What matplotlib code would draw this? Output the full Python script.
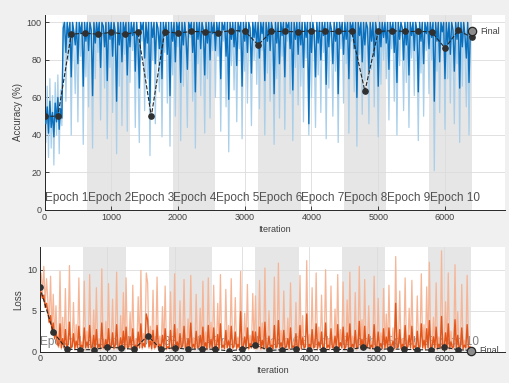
import numpy as np
import matplotlib
matplotlib.use('Agg')
import matplotlib.pyplot as plt

plt.rcParams['font.family'] = ['Liberation Sans', 'DejaVu Sans']

# training samples every 20 iterations, validation every 200
step = 20
val_step = 200
iters_per_epoch = 640
n_epochs = 10

acc_raw = [
    50, 36, 66, 28, 70, 33, 61, 24, 68, 40, 72, 30, 64, 45,
    100, 100, 58, 100, 80, 100, 40, 100, 86, 62, 100, 47, 100, 82, 100, 35, 100, 71,
    100, 55, 100, 90, 33, 100, 70, 100, 84, 100, 48, 100, 94, 65, 100, 38,
    100, 76, 100, 52, 100, 88, 30, 100, 66, 100, 45, 100, 83, 100, 42, 100,
    68, 100, 85, 100, 44, 100, 74, 36, 100, 90, 100, 53, 100, 70, 100, 29,
    100, 80, 100, 46, 100, 92, 63, 100, 39, 100, 84, 100, 57, 100, 34, 100,
    72, 100, 50, 100, 87, 100, 37, 100, 66, 100, 81, 44, 100, 92, 100, 58,
    100, 33, 100, 78, 100, 61, 100, 88, 41, 100, 70, 100, 49, 100, 85, 100,
    60, 100, 82, 100, 42, 100, 90, 100, 55, 100, 31, 100, 77, 100, 64, 100,
    47, 100, 86, 100, 38, 100, 74, 100, 57, 100, 91, 45, 100, 80, 100, 67,
    100, 54, 100, 85, 100, 40, 100, 73, 100, 58, 100, 88, 35, 100, 70, 100,
    49, 100, 82, 100, 43, 100, 90, 100, 62, 100, 37, 100, 76, 100, 56, 100,
    66, 100, 47, 100, 81, 100, 40, 100, 60, 100, 89, 44, 100, 72, 100, 52,
    100, 84, 100, 38, 100, 65, 100, 91, 50, 100, 74, 100, 36, 100, 86, 100,
    57, 100, 78, 100, 41, 100, 90, 100, 63, 100, 34, 100, 83, 100, 51, 100,
    69, 100, 92, 46, 100, 75, 100, 55, 100, 87, 39, 100, 67, 100, 80, 100,
    70, 100, 48, 100, 86, 100, 58, 100, 40, 100, 77, 100, 92, 53, 100, 68,
    100, 44, 100, 81, 100, 61, 100, 90, 37, 100, 73, 100, 50, 100, 85, 100,
    62, 100, 80, 100, 21, 100, 74, 100, 52, 100, 88, 100, 43, 100, 70, 100,
    57, 100, 90, 46, 100, 78, 100, 36, 100, 66, 100, 84, 55, 100, 40, 93,
    94]
acc_smooth = [
    50, 46, 55, 41, 58, 44, 52, 39, 57, 47, 60, 43, 54, 49,
    97, 100, 84, 100, 92, 100, 71, 100, 95, 88, 100, 78, 100, 94, 100, 66, 100, 90,
    100, 85, 100, 96, 61, 100, 89, 100, 93, 100, 76, 100, 98, 87, 100, 69,
    100, 91, 100, 82, 100, 95, 58, 100, 88, 100, 79, 100, 94, 100, 72, 100,
    87, 100, 93, 100, 74, 100, 90, 65, 100, 96, 100, 81, 100, 89, 100, 57,
    100, 92, 100, 78, 100, 97, 86, 100, 70, 100, 93, 100, 83, 100, 61, 100,
    90, 100, 79, 100, 95, 100, 68, 100, 88, 100, 92, 75, 100, 97, 100, 84,
    100, 63, 100, 91, 100, 86, 100, 96, 72, 100, 89, 100, 80, 100, 94, 100,
    85, 100, 93, 100, 70, 100, 96, 100, 82, 100, 59, 100, 91, 100, 87, 100,
    77, 100, 95, 100, 66, 100, 90, 100, 84, 100, 97, 73, 100, 92, 100, 88,
    100, 81, 100, 94, 100, 69, 100, 90, 100, 85, 100, 96, 62, 100, 89, 100,
    78, 100, 93, 100, 71, 100, 97, 100, 86, 100, 64, 100, 91, 100, 83, 100,
    88, 100, 76, 100, 92, 100, 46, 100, 84, 100, 95, 71, 100, 89, 100, 80,
    100, 93, 100, 67, 100, 87, 100, 96, 78, 100, 90, 100, 62, 100, 94, 100,
    83, 100, 91, 100, 70, 100, 96, 100, 86, 100, 60, 100, 93, 100, 79, 100,
    88, 100, 97, 74, 100, 90, 100, 82, 100, 95, 66, 100, 87, 100, 92, 100,
    89, 100, 75, 100, 94, 100, 84, 100, 68, 100, 91, 100, 97, 80, 100, 88,
    100, 72, 100, 93, 100, 85, 100, 96, 63, 100, 90, 100, 78, 100, 94, 100,
    86, 100, 92, 100, 58, 100, 90, 100, 79, 100, 95, 100, 70, 100, 88, 100,
    83, 100, 96, 74, 100, 91, 100, 65, 100, 87, 100, 93, 81, 100, 68, 97,
    95]
acc_val = [50, 50, 93.7, 94.3, 93.7, 94.8, 93.7, 95, 50, 95, 94.3, 95.2, 95, 94.6,
           95.7, 95.4, 88, 95.2, 95.2, 95, 95.6, 95.2, 95.2, 95.4, 63.3, 95.2, 95.6,
           95.2, 95.2, 95, 86.3, 95.8, 92]
acc_final = 95.3

loss_raw = [
    8.0, 9.6, 7.1, 10.4, 5.8, 8.9, 6.3, 3.5, 9.2, 2.4, 7.0, 1.5, 5.6, 0.9, 0.5, 9.8,
    0.3, 4.2, 0.4, 7.7, 0.2, 1.8, 10.5, 0.3, 0.6, 6.0, 0.2, 3.3, 0.4, 9.0, 0.3, 1.2,
    0.3, 8.6, 0.2, 2.5, 0.4, 9.4, 0.3, 0.5, 5.1, 0.2, 7.8, 0.4, 1.6, 0.2, 10.1, 0.3,
    0.5, 3.7, 0.2, 8.3, 0.3, 0.6, 6.4, 0.2, 1.1, 9.7, 0.3, 0.4, 4.4, 0.2, 7.2, 0.3,
    9.0, 0.3, 0.5, 4.8, 0.2, 8.1, 0.3, 1.4, 0.2, 6.7, 0.4, 9.9, 0.3, 2.2, 0.5, 9.6,
    8.4, 0.4, 3.1, 0.2, 7.5, 0.3, 0.6, 9.1, 0.2, 1.9, 0.4, 5.5, 0.3, 8.0, 0.2, 0.6,
    0.3, 7.3, 0.2, 0.5, 9.5, 0.3, 2.8, 0.2, 6.2, 0.4, 1.0, 8.8, 0.3, 0.5, 4.0, 0.2,
    9.3, 0.3, 1.7, 0.2, 7.0, 0.4, 0.6, 5.3, 0.2, 8.6, 0.3, 2.4, 0.2, 9.0, 0.4, 3.6,
    0.2, 8.1, 0.3, 0.6, 5.9, 0.2, 9.4, 0.3, 1.3, 0.2, 7.6, 0.4, 3.2, 0.2, 8.9, 0.3,
    0.5, 6.6, 0.2, 1.8, 0.3, 9.8, 0.2, 0.6, 4.7, 0.3, 8.2, 0.2, 2.0, 0.4, 7.1, 0.3,
    6.8, 0.3, 0.5, 8.7, 0.2, 3.5, 0.3, 10.2, 0.2, 0.6, 5.0, 0.3, 1.4, 0.2, 9.1, 0.4,
    0.5, 10.8, 0.3, 2.6, 0.2, 7.4, 0.3, 0.6, 4.1, 0.2, 8.4, 0.3, 1.2, 0.2, 6.0, 0.4,
    0.3, 9.3, 0.2, 4.4, 0.3, 0.6, 11.1, 0.3, 2.1, 0.2, 7.8, 0.4, 0.5, 9.6, 0.2, 3.0,
    0.3, 6.9, 0.2, 0.6, 10.0, 0.3, 1.5, 0.2, 8.0, 0.4, 0.5, 5.2, 0.2, 9.4, 0.3, 2.7,
    0.4, 8.5, 0.2, 0.6, 6.3, 0.3, 9.7, 0.2, 1.9, 0.3, 7.2, 0.2, 0.5, 10.4, 0.3, 3.9,
    0.2, 8.8, 0.4, 0.6, 5.6, 0.2, 1.3, 0.3, 9.2, 0.2, 0.5, 6.5, 0.3, 2.3, 0.2, 7.7,
    0.3, 4.6, 0.2, 8.1, 0.3, 0.6, 2.9, 0.2, 11.6, 0.3, 0.5, 7.4, 0.2, 1.6, 0.3, 9.0,
    0.2, 0.6, 5.3, 0.3, 8.7, 0.2, 1.1, 0.3, 6.8, 0.2, 0.5, 9.5, 0.3, 3.3, 0.2, 7.9,
    0.3, 10.9, 0.2, 0.6, 4.2, 0.3, 8.4, 0.2, 1.8, 0.3, 12.3, 0.2, 0.5, 6.1, 0.3, 9.6,
    0.2, 2.5, 0.3, 0.6, 10.6, 0.2, 4.9, 0.3, 0.5, 8.2, 0.2, 1.4, 0.3, 9.3, 0.2, 0.6,
    0.2]
loss_smooth = [
    7.6, 7.2, 6.5, 6.9, 5.4, 5.9, 4.8, 3.6, 4.4, 2.6, 3.5, 1.6, 2.5, 1.0, 0.7, 3.4,
    0.5, 1.6, 0.5, 2.7, 0.4, 0.9, 3.6, 0.5, 0.6, 2.2, 0.4, 1.3, 0.5, 3.1, 0.4, 0.8,
    0.5, 2.9, 0.5, 1.2, 0.5, 3.2, 0.5, 0.6, 2.0, 0.4, 2.7, 0.5, 0.9, 0.4, 3.5, 0.5,
    0.6, 1.5, 0.4, 2.8, 0.5, 0.6, 2.3, 0.4, 0.8, 3.3, 0.5, 0.5, 1.7, 0.4, 2.5, 0.5,
    3.0, 0.5, 0.6, 1.8, 0.4, 2.8, 0.5, 0.8, 0.4, 2.4, 0.5, 3.4, 0.5, 1.0, 0.6, 4.6,
    3.9, 0.6, 1.3, 0.4, 2.6, 0.5, 0.6, 3.2, 0.4, 0.9, 0.5, 2.0, 0.5, 2.8, 0.4, 0.6,
    0.5, 2.6, 0.4, 0.5, 3.3, 0.5, 1.2, 0.4, 2.2, 0.5, 0.7, 3.1, 0.5, 0.5, 1.6, 0.4,
    3.5, 0.5, 0.9, 0.4, 2.5, 0.5, 0.6, 2.0, 0.4, 3.0, 0.5, 1.1, 0.4, 3.2, 0.5, 1.5,
    0.4, 2.9, 0.5, 0.6, 2.1, 0.4, 3.4, 0.5, 0.8, 0.4, 2.6, 0.5, 1.3, 0.4, 3.1, 0.5,
    0.6, 2.4, 0.4, 0.9, 0.5, 4.9, 0.4, 0.6, 1.8, 0.5, 2.9, 0.4, 1.0, 0.5, 2.5, 0.5,
    2.4, 0.5, 0.6, 3.0, 0.4, 1.4, 0.5, 3.6, 0.4, 0.6, 1.9, 0.5, 0.8, 0.4, 3.2, 0.5,
    0.6, 3.8, 0.5, 1.1, 0.4, 2.6, 0.5, 0.6, 1.6, 0.4, 2.9, 0.5, 0.7, 0.4, 2.2, 0.5,
    0.5, 3.2, 0.4, 1.7, 0.5, 0.6, 4.6, 0.5, 0.9, 0.4, 2.7, 0.5, 0.6, 3.4, 0.4, 1.2,
    0.5, 2.4, 0.4, 0.6, 3.5, 0.5, 0.8, 0.4, 2.8, 0.5, 0.6, 1.9, 0.4, 3.3, 0.5, 1.1,
    0.5, 3.0, 0.4, 0.6, 2.3, 0.5, 3.4, 0.4, 0.9, 0.5, 2.6, 0.4, 0.6, 3.7, 0.5, 1.5,
    0.4, 3.1, 0.5, 0.6, 2.1, 0.4, 0.8, 0.5, 3.3, 0.4, 0.6, 2.4, 0.5, 1.0, 0.4, 2.8,
    0.5, 1.8, 0.4, 2.9, 0.5, 0.6, 1.3, 0.4, 5.9, 0.5, 0.6, 2.7, 0.4, 0.9, 0.5, 3.2,
    0.4, 0.6, 2.0, 0.5, 3.1, 0.4, 0.7, 0.5, 2.5, 0.4, 0.6, 3.4, 0.5, 1.4, 0.4, 2.8,
    0.5, 3.8, 0.4, 0.6, 1.8, 0.5, 3.0, 0.4, 0.9, 0.5, 4.3, 0.4, 0.6, 2.3, 0.5, 3.4,
    0.4, 1.2, 0.5, 0.6, 3.9, 0.4, 2.0, 0.5, 0.6, 2.9, 0.4, 0.8, 0.5, 3.3, 0.4, 0.6,
    0.4]
loss_val = [7.9, 2.4, 0.3, 0.25, 0.25, 0.57, 0.45, 0.28, 1.95, 0.28, 0.5, 0.28, 0.35,
            0.28, 0.1, 0.28, 0.8, 0.15, 0.25, 0.35, 0.25, 0.25, 0.28, 0.25, 0.57, 0.28,
            0.35, 0.28, 0.25, 0.2, 0.55, 0.25, 0.15]
loss_final = 0.1

it_val = np.arange(len(acc_val)) * val_step
last_it = it_val[-1]

fig = plt.figure(figsize=(5.1, 3.83), dpi=100, facecolor='#f0f0f0')
ax1 = fig.add_axes([0.0873, 0.4517, 0.903, 0.5093])
ax2 = fig.add_axes([0.078, 0.0817, 0.912, 0.2742])

text_col = '#404040'


def style_axes(ax, ylim, yticks, ylabel):
    ax.set_facecolor('white')
    ax.set_xlim(0, 6900)
    ax.set_ylim(*ylim)
    ax.set_yticks(yticks)
    ax.set_xticks(range(0, 7000, 1000))
    ax.grid(True, color='#dcdcdc', linewidth=0.6)
    ax.set_axisbelow(True)
    for s in ('top', 'right'):
        ax.spines[s].set_visible(False)
    for s in ('left', 'bottom'):
        ax.spines[s].set_color('#262626')
        ax.spines[s].set_linewidth(0.7)
    ax.tick_params(direction='in', length=3, width=0.6, labelsize=6.5,
                   colors='#262626', labelcolor=text_col, pad=2)
    ax.set_xlabel('Iteration', fontsize=6.5, color=text_col, labelpad=2)
    ax.set_ylabel(ylabel, fontsize=7, color=text_col, labelpad=3)
    # shade every other epoch
    for e in range(1, n_epochs, 2):
        ax.axvspan(e * iters_per_epoch, (e + 1) * iters_per_epoch,
                   color='#e6e6e6', lw=0, zorder=0)


def iters(series):
    return np.arange(len(series)) * step


style_axes(ax1, (0, 104), range(0, 101, 20), 'Accuracy (%)')
style_axes(ax2, (0, 12.8), [0, 5, 10], 'Loss')

for e in range(n_epochs):
    ax1.text(e * iters_per_epoch + 10, 6.5, f'Epoch {e + 1}', fontsize=8.5,
             color='#505050', va='center', ha='left', zorder=1)
    ax2.text(e * iters_per_epoch + 10, 1.2, f'Epoch {e + 1}', fontsize=8.5,
             color='#808080', va='center', ha='left', zorder=1)

# accuracy
ax1.plot(iters(acc_raw), acc_raw, color='#a9cfea', lw=0.9, zorder=2)
ax1.plot(iters(acc_smooth), acc_smooth, color='#0a70bd', lw=1.0, zorder=3)
ax1.plot(it_val, acc_val, '--o', color='#262626', lw=0.8, ms=3.8,
         mfc='#303030', mec='#303030', zorder=4)
ax1.plot([last_it], [acc_final], 'o', ms=6, mfc='#8c8c8c', mec='#262626',
         mew=0.9, zorder=5)
ax1.annotate('Final', (last_it, acc_final), xytext=(6, 0), textcoords='offset points',
             fontsize=6.5, color=text_col, va='center')

# loss
ax2.plot(iters(loss_raw), loss_raw, color='#f6b596', lw=0.9, zorder=2)
ax2.plot(iters(loss_smooth), loss_smooth, color='#e2561b', lw=1.0, zorder=3)
ax2.plot(it_val, loss_val, '--o', color='#262626', lw=0.8, ms=3.8,
         mfc='#303030', mec='#303030', zorder=4)
ax2.plot([last_it], [loss_final], 'o', ms=6, mfc='#8c8c8c', mec='#262626',
         mew=0.9, zorder=5, clip_on=False)
ax2.annotate('Final', (last_it, loss_final), xytext=(6, 0), textcoords='offset points',
             fontsize=6.5, color=text_col, va='center')

fig.savefig('out.png', dpi=100, facecolor=fig.get_facecolor())
